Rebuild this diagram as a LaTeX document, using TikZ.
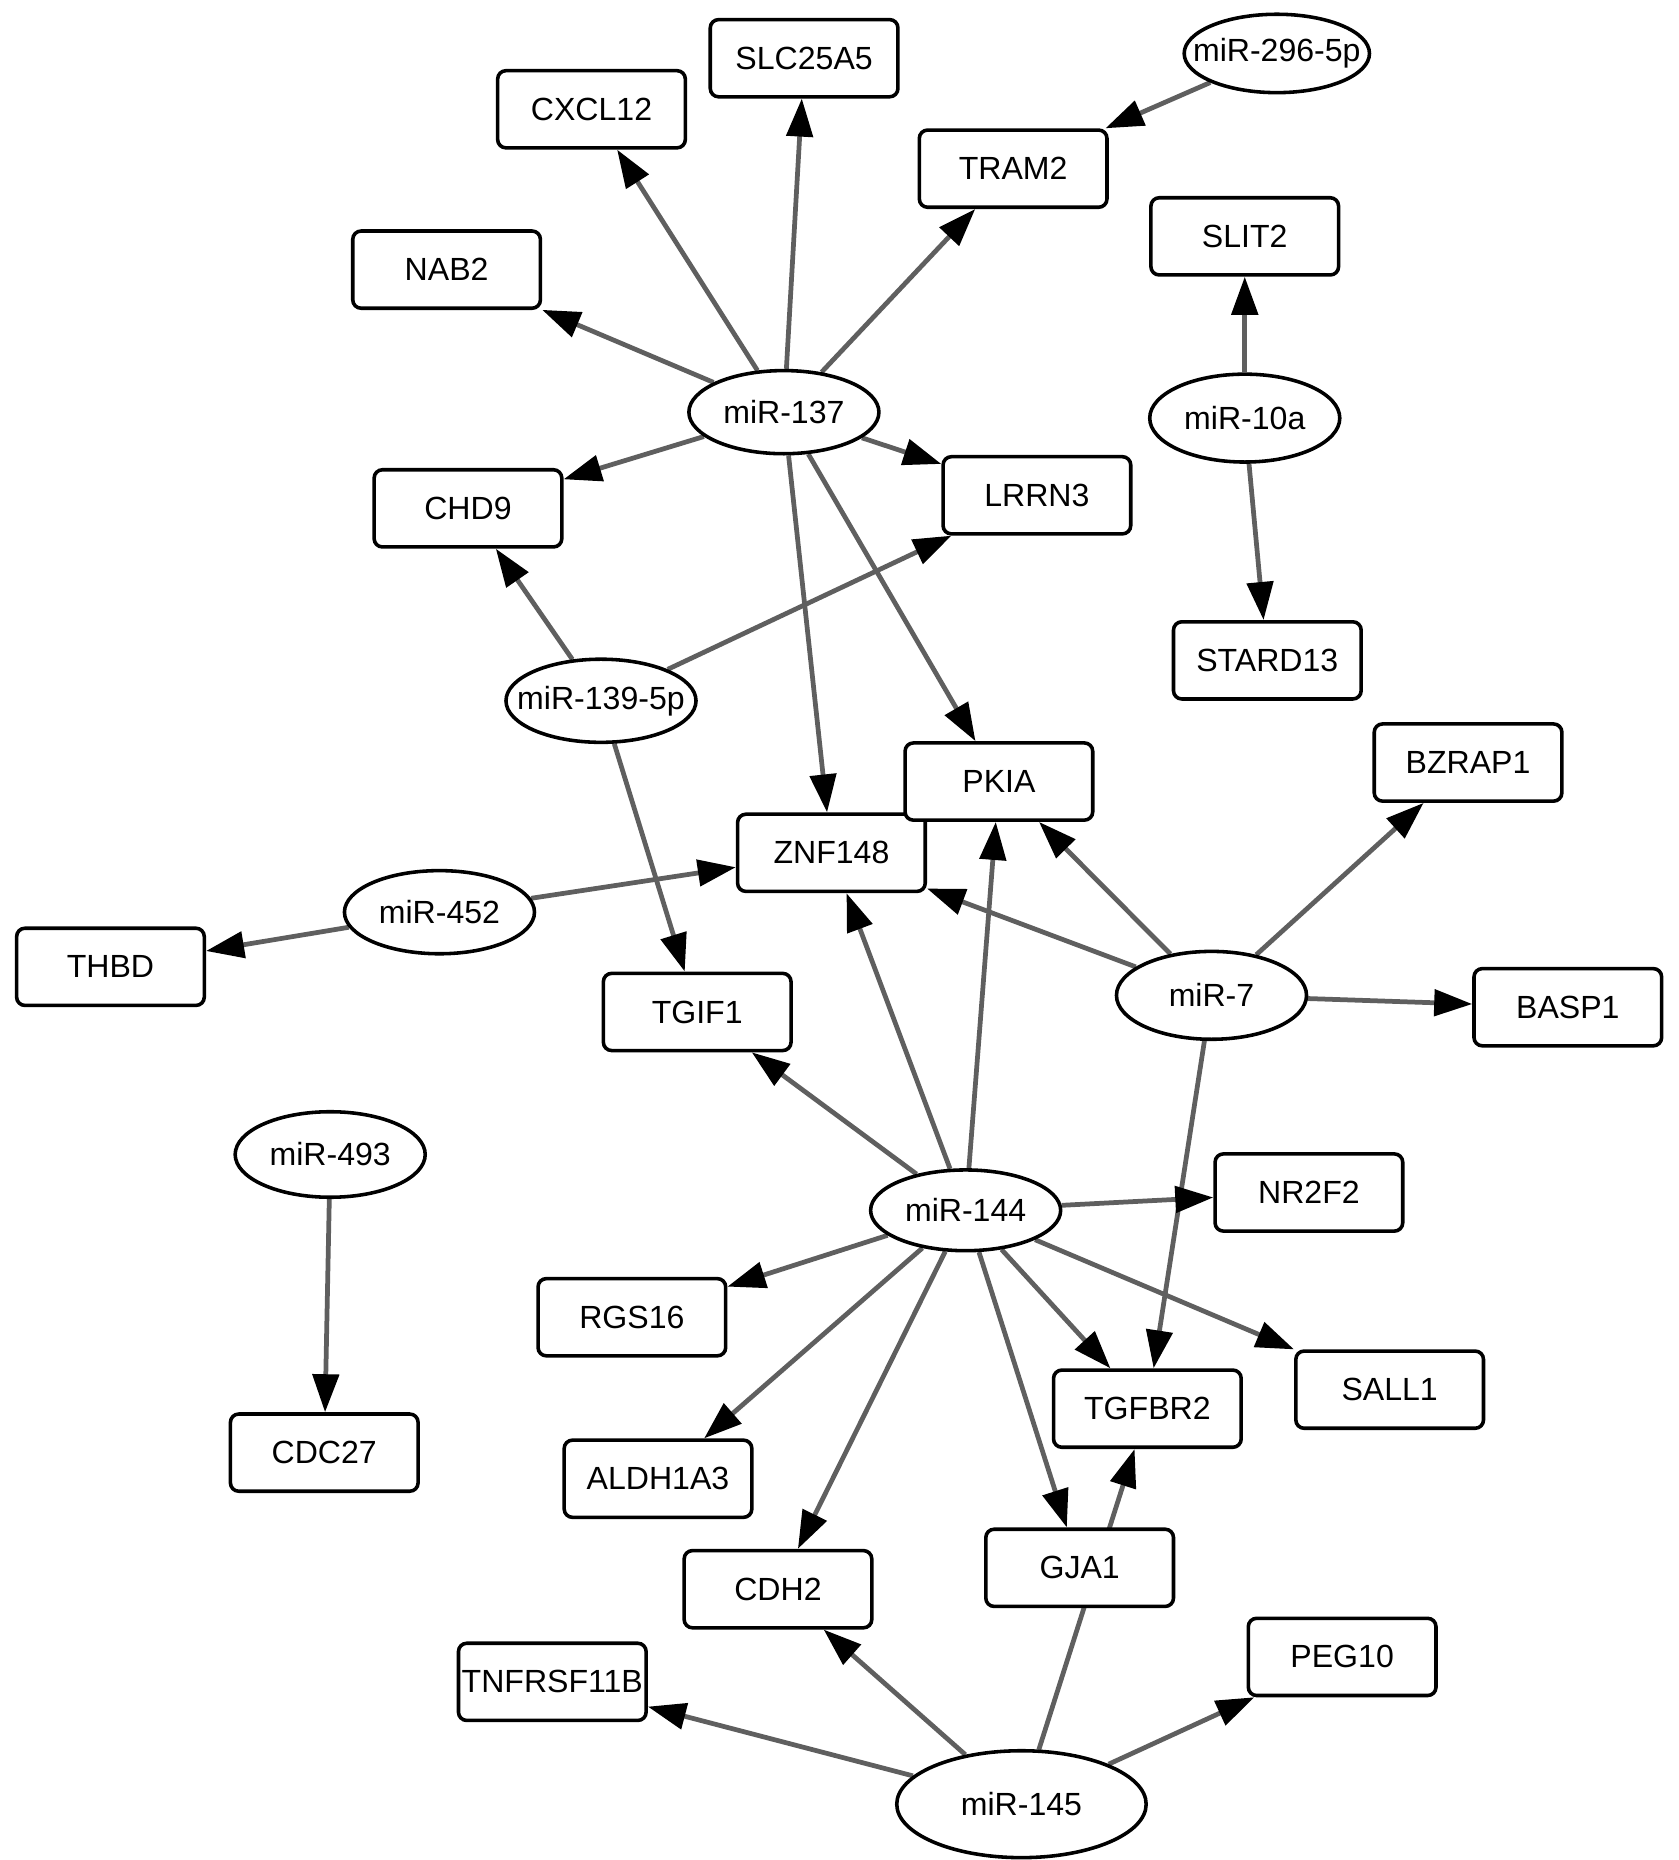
\documentclass[tikz,border=0pt]{standalone}
\usepackage{fontspec}
\setmainfont{Liberation Sans}
\usetikzlibrary{shapes.geometric,arrows.meta}
\pgfdeclarelayer{background}
\pgfsetlayers{background,main}
\definecolor{edgegray}{RGB}{95,95,95}
\tikzset{
  gene/.style={draw, line width=3pt, rounded corners=7pt, minimum width=158pt, minimum height=65pt, inner sep=0pt, fill=white, font=\fontsize{27}{30}\selectfont},
  mir/.style={ellipse, draw, line width=3pt, minimum width=160pt, minimum height=70pt, inner sep=0pt, fill=white, font=\fontsize{27}{30}\selectfont},
  tight/.style={inner xsep=-19pt},
  lnk/.style={draw=edgegray, line width=4pt, -{Triangle[length=32pt,width=22pt,color=black]}}
}
\begin{document}
\begin{tikzpicture}[x=1pt,y=-1pt]
\useasboundingbox (0,0) rectangle (1413,1566);
% genes
\node[gene] (SLC) at (677,49) {SLC25A5};
\node[gene] (CXCL) at (498,92) {CXCL12};
\node[gene] (TRAM) at (853,142) {TRAM2};
\node[gene] (NAB) at (376,227) {NAB2};
\node[gene] (SLIT) at (1048,199) {SLIT2};
\node[gene] (CHD) at (394,428) {CHD9};
\node[gene] (LRRN) at (873,417) {LRRN3};
\node[gene] (STARD) at (1067,556) {STARD13};
\node[gene] (ZNF) at (700,718) {ZNF148};
\node[gene] (PKIA) at (841,658) {PKIA};
\node[gene] (BZRAP) at (1236,642) {BZRAP1};
\node[gene] (THBD) at (93,814) {THBD};
\node[gene] (TGIF) at (587,852) {TGIF1};
\node[gene] (BASP) at (1320,848) {BASP1};
\node[gene] (NR2F2) at (1102,1004) {NR2F2};
\node[gene] (RGS) at (532,1109) {RGS16};
\node[gene] (SALL) at (1170,1170) {SALL1};
\node[gene] (TGFBR) at (966,1186) {TGFBR2};
\node[gene] (CDC) at (273,1223) {CDC27};
\node[gene] (ALDH) at (554,1245) {ALDH1A3};
\node[gene] (GJA) at (909,1320) {GJA1};
\node[gene] (CDH) at (655,1338) {CDH2};
\node[gene] (TNF) at (465,1416) {TNFRSF11B};
\node[gene] (PEG) at (1130,1395) {PEG10};
% miRNAs
\node[mir, tight, minimum width=156pt, minimum height=66pt] (m296) at (1075,45) {miR-296-5p};
\node[mir] (m137) at (660,347) {miR-137};
\node[mir, minimum height=74pt] (m10a) at (1048,352) {miR-10a};
\node[mir, tight] (m139) at (506,590) {miR-139-5p};
\node[mir] (m452) at (370,768) {miR-452};
\node[mir, minimum height=74pt] (m7) at (1020,838) {miR-7};
\node[mir, minimum height=72pt] (m493) at (278,972) {miR-493};
\node[mir, minimum height=68pt] (m144) at (813,1019) {miR-144};
\node[mir, minimum width=210pt, minimum height=90pt] (m145) at (860,1519) {miR-145};
% edges
\begin{pgfonlayer}{background}
\draw[lnk] (m137) -- (CXCL);
\draw[lnk] (m137) -- (SLC);
\draw[lnk] (m137) -- (TRAM);
\draw[lnk] (m137) -- (NAB);
\draw[lnk] (m137) -- (CHD);
\draw[lnk] (m137) -- (LRRN);
\draw[lnk] (m137) -- (ZNF);
\draw[lnk] (m137) -- (PKIA);
\draw[lnk] (m296) -- (TRAM);
\draw[lnk] (m10a) -- (SLIT);
\draw[lnk] (m10a) -- (STARD);
\draw[lnk] (m139) -- (CHD);
\draw[lnk] (m139) -- (LRRN);
\draw[lnk] (m139) -- (TGIF);
\draw[lnk] (m452) -- (ZNF);
\draw[lnk] (m452) -- (THBD);
\draw[lnk] (m7) -- (PKIA);
\draw[lnk] (m7) -- (ZNF);
\draw[lnk] (m7) -- (BZRAP);
\draw[lnk] (m7) -- (BASP);
\draw[lnk] (m7) -- (TGFBR);
\draw[lnk] (m144) -- (TGIF);
\draw[lnk] (m144) -- (ZNF);
\draw[lnk] (m144) -- (PKIA);
\draw[lnk] (m144) -- (NR2F2);
\draw[lnk] (m144) -- (RGS);
\draw[lnk] (m144) -- (ALDH);
\draw[lnk] (m144) -- (CDH);
\draw[lnk] (m144) -- (GJA);
\draw[lnk] (m144) -- (TGFBR);
\draw[lnk] (m144) -- (SALL);
\draw[lnk] (m493) -- (CDC);
\draw[lnk] (m145) -- (CDH);
\draw[lnk] (m145) -- (TNF);
\draw[lnk] (m145) -- (PEG);
\draw[lnk] (m145) -- (TGFBR);
\end{pgfonlayer}
\end{tikzpicture}
\end{document}
